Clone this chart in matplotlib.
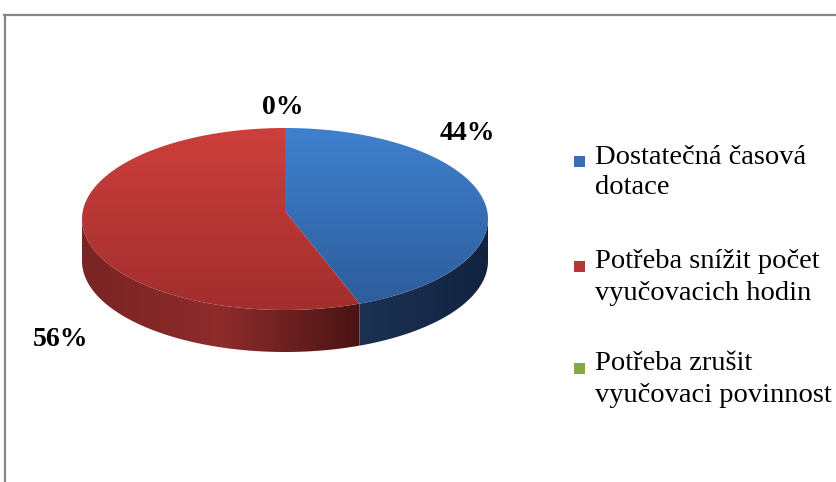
import numpy as np
import matplotlib
matplotlib.use("Agg")
import matplotlib.pyplot as plt
from matplotlib.patches import Polygon, Rectangle
from matplotlib.colors import LinearSegmentedColormap
from matplotlib.lines import Line2D

# ---- data ----
categories = ["Dostatečná časová\ndotace",
              "Potřeba snížit počet\nvyučovacich hodin",
              "Potřeba zrušit\nvyučovaci povinnost"]
values = [44, 56, 0]
value_labels = ["44%", "56%", "0%"]

# ---- styles ----
top_grad = [("#3F80CE", "#2D5D9C"), ("#CC3F3C", "#A22E2D"), ("#9BBB59", "#76963A")]
side_grad = [("#1C3152", "#122340"), ("#7A2424", "#8E2B2B", "#4A1414"), ("#5E7A2A", "#4A6220")]
legend_colors = ["#3A6DB5", "#B53737", "#86A845"]
label_pos = [(467, 133), (61, 339), (283, 107)]

W, H = 836, 482
fig = plt.figure(figsize=(W / 100, H / 100), dpi=100)
ax = fig.add_axes([0, 0, 1, 1])
ax.set_xlim(0, W)
ax.set_ylim(H, 0)
ax.axis("off")

cx, cy, a, b, depth = 285, 219, 203, 91, 42
apex = (cx, cy - 8)


def rim(t, dy=0.0):
    t = np.radians(t)
    return np.column_stack([cx + a * np.cos(t), cy - b * np.sin(t) + dy])


def grad_fill(poly_xy, colors, vertical=True, z=2):
    poly = Polygon(poly_xy, closed=True, facecolor="none", edgecolor="none")
    ax.add_patch(poly)
    x0, y0 = poly_xy.min(axis=0)
    x1, y1 = poly_xy.max(axis=0)
    cmap = LinearSegmentedColormap.from_list("g", list(colors))
    g = np.linspace(0, 1, 256)
    img = g[:, None] if vertical else g[None, :]
    im = ax.imshow(img, cmap=cmap, extent=[x0, x1, y1, y0], aspect="auto",
                   interpolation="bilinear", zorder=z)
    im.set_clip_path(poly)


total = float(sum(values))
start = 90.0
spans = []
for v in values:
    end = start - 360.0 * v / total
    spans.append((start, end))
    start = end

# sides (visible lower half: angles -180..0)
for i, (t0, t1) in enumerate(spans):
    lo, hi = min(t0, t1), max(t0, t1)
    for shift in (0, -360):
        l, h = max(lo + shift, -180), min(hi + shift, 0)
        if h - l > 1e-6:
            ts = np.linspace(l, h, 200)
            top = rim(ts)
            bot = rim(ts[::-1], depth)
            grad_fill(np.vstack([top, bot]), side_grad[i], vertical=False, z=2)

# top faces
for i, (t0, t1) in enumerate(spans):
    if abs(t0 - t1) < 1e-6:
        continue
    ts = np.linspace(t0, t1, 300)
    pts = np.vstack([[apex], rim(ts)])
    grad_fill(pts, top_grad[i], vertical=True, z=3)

# data labels
for lab, (x, y) in zip(value_labels, label_pos):
    ax.text(x, y, lab, ha="center", va="center", fontsize=20,
            fontweight="bold", family="Liberation Serif", color="black", zorder=5)

# legend
leg_y = [157, 262, 364]
for cat, col, y in zip(categories, legend_colors, leg_y):
    ax.add_patch(Rectangle((574, y - 1), 11, 11, facecolor=col, edgecolor="none", zorder=5))
    for j, line in enumerate(cat.split("\n")):
        ax.text(595, y + j * 31, line, ha="left", va="center", fontsize=20.5,
                family="Liberation Serif", color="black", zorder=5)

# frame
ax.add_line(Line2D([4, W], [15, 15], color="#868686", lw=1.6, zorder=6))
ax.add_line(Line2D([5, 5], [15, H], color="#868686", lw=1.6, zorder=6))

fig.savefig("out.png", dpi=100)
